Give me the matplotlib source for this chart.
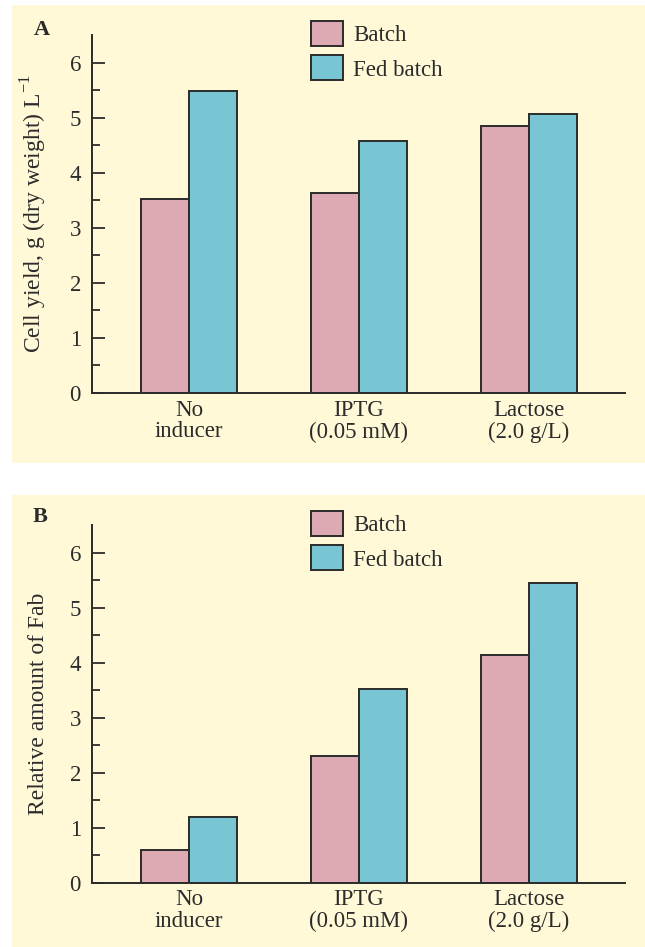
import numpy as np
import matplotlib
matplotlib.use('Agg')
import matplotlib.pyplot as plt
from matplotlib.patches import Rectangle

plt.rcParams['font.family'] = 'Liberation Serif'
plt.rcParams['font.size'] = 16.5
plt.rcParams['mathtext.fontset'] = 'custom'
plt.rcParams['mathtext.rm'] = 'Liberation Serif'

categories = ['No\ninducer', 'IPTG\n(0.05 mM)', 'Lactose\n(2.0 g/L)']
series = ['Batch', 'Fed batch']

yield_batch = [3.52, 3.63, 4.84]
yield_fed = [5.49, 4.57, 5.07]

fab_batch = [0.6, 2.3, 4.13]
fab_fed = [1.2, 3.52, 5.44]

cream = '#FFF9D8'
pink = '#DDAAB3'
blue = '#78C5D3'
ink = '#2B2B2B'

W, H = 645, 947
fig = plt.figure(figsize=(W / 100, H / 100), dpi=100)


def px_box(x0, y0, x1, y1):
    # pixel box (top-left origin) -> figure fraction rect
    return [x0 / W, 1 - y1 / H, (x1 - x0) / W, (y1 - y0) / H]


# cream panel backgrounds
for (x0, y0, x1, y1) in [(12, 5, 645, 463), (12, 495, 645, 947)]:
    r = px_box(x0, y0, x1, y1)
    fig.patches.append(Rectangle((r[0], r[1]), r[2], r[3], transform=fig.transFigure,
                                 facecolor=cream, edgecolor='none', zorder=-10))

fs = 16.5


def draw_panel(rect, batch, fed, ylabel, letter, letter_xy):
    ax = fig.add_axes(rect)
    ax.set_zorder(5)
    ax.patch.set_visible(False)
    x = np.arange(len(categories))
    w = 0.283
    ax.bar(x - w / 2, batch, w, color=pink, edgecolor=ink, linewidth=1.4, label=series[0])
    ax.bar(x + w / 2, fed, w, color=blue, edgecolor=ink, linewidth=1.4, label=series[1])
    ax.set_xlim(-0.57, 2.565)
    ax.set_ylim(0, 6.5)
    for s in ['top', 'right']:
        ax.spines[s].set_visible(False)
    for s in ['left', 'bottom']:
        ax.spines[s].set_linewidth(1.4)
        ax.spines[s].set_color(ink)
    ax.set_yticks(range(0, 7))
    ax.set_yticks(np.arange(0.5, 6.5, 1), minor=True)
    ax.tick_params(axis='y', which='major', direction='in', length=9, width=1.3,
                   color=ink, labelcolor=ink, pad=8, labelsize=fs)
    ax.tick_params(axis='y', which='minor', direction='in', length=5.5, width=1.3, color=ink)
    ax.set_xticks(x)
    ax.set_xticklabels(categories, linespacing=1.05)
    ax.tick_params(axis='x', length=0, pad=5, labelcolor=ink, labelsize=fs)
    ax.set_ylabel(ylabel, color=ink, fontsize=17)
    ax.yaxis.set_label_coords(-0.08, 0.5)
    ax.legend(loc='upper left', bbox_to_anchor=(311 / W, 1 - letter_xy[2] / H),
              bbox_transform=fig.transFigure, frameon=False, fontsize=fs,
              handlelength=1.4, handleheight=1.3, handletextpad=0.44,
              labelspacing=0.4, borderpad=0, borderaxespad=0, labelcolor=ink)
    fig.text(letter_xy[0] / W, 1 - letter_xy[1] / H, letter, fontsize=16,
             fontweight='bold', color=ink, ha='center', va='center')
    return ax


draw_panel(px_box(92, 35, 625, 392.7), yield_batch, yield_fed,
           'Cell yield, g (dry weight) L$^{-1}$', 'A', (42, 30, 21))
draw_panel(px_box(92, 525, 625, 882.5), fab_batch, fab_fed,
           'Relative amount of Fab', 'B', (40, 517, 511))

fig.savefig('out.png', dpi=100, facecolor='white')
